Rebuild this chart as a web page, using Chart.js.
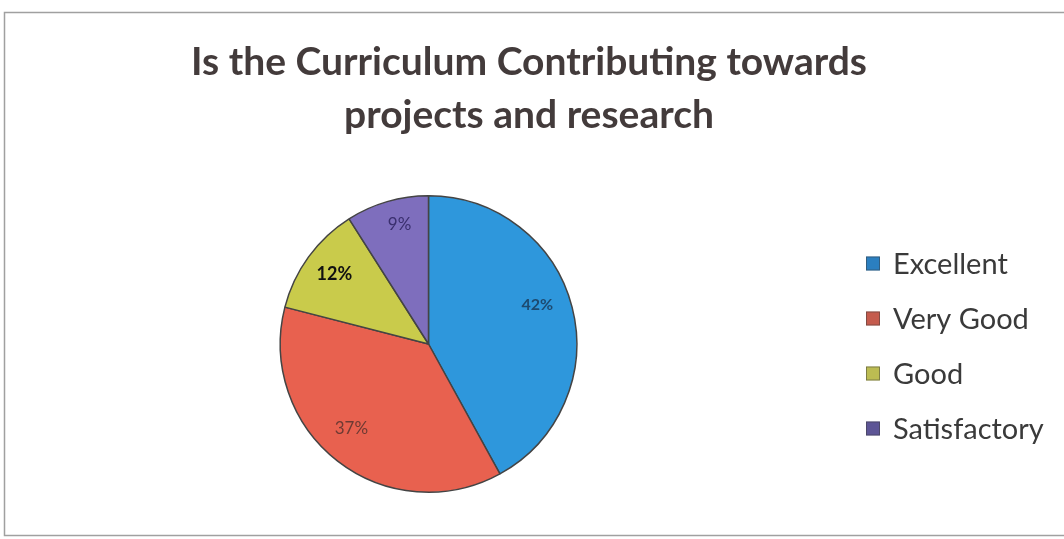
<!DOCTYPE html>
<html>
<head>
<meta charset="utf-8">
<script src="https://cdn.jsdelivr.net/npm/chart.js@4.4.1/dist/chart.umd.min.js"></script>
<style>
  html, body { margin: 0; padding: 0; background: #ffffff; }
  #wrap { width: 1064px; height: 539px; position: relative; }
</style>
</head>
<body>
<div id="wrap"><canvas id="c" width="1064" height="539"></canvas></div>
<script>
const categories = ['Excellent', 'Very Good', 'Good', 'Satisfactory'];
const percentValues = [42, 37, 12, 9];
const percentLabels = ['42%', '37%', '12%', '9%'];
const titleLines = ['Is the Curriculum Contributing towards', 'projects and research'];

const sliceColors = ['#2e97dc', '#e8614f', '#c9cb4b', '#7e6ebd'];
const legendColors = ['#2b7fc0', '#c55b4d', '#bcbc52', '#5d5596'];
const labelColors = ['#1d4a70', '#6e3a33', '#111111', '#3a2f6e'];
const labelFonts = ['bold 16px Lato', '17px Lato', 'bold 18px Lato', '17px Lato'];
const labelRadius = [0.78, 0.77, 0.79, 0.83];
const labelAngleShift = [-5.5, 4.7, 0.5, 2.6];

const framePlugin = {
  id: 'frame',
  beforeDraw(chart) {
    const ctx = chart.ctx;
    ctx.save();
    ctx.fillStyle = '#ffffff';
    ctx.fillRect(0, 0, chart.width, chart.height);
    ctx.strokeStyle = '#a0a0a0';
    ctx.lineWidth = 1.5;
    ctx.strokeRect(4.5, 12.5, chart.width + 10, 523);
    ctx.restore();
  }
};

const titlePlugin = {
  id: 'wideTitle',
  afterDraw(chart) {
    const ctx = chart.ctx;
    ctx.save();
    ctx.font = 'bold 39px Lato';
    ctx.fillStyle = '#433b3b';
    ctx.textAlign = 'center';
    ctx.textBaseline = 'alphabetic';
    titleLines.forEach((line, i) => {
      ctx.fillText(line, 529, 75 + i * 53);
    });
    ctx.restore();
  }
};

const legendPlugin = {
  id: 'sideLegend',
  afterDraw(chart) {
    const ctx = chart.ctx;
    const area = chart.chartArea;
    const cy = (area.top + area.bottom) / 2 + 2;
    const step = 55;
    const n = categories.length;
    ctx.save();
    ctx.font = '29px Lato';
    ctx.textBaseline = 'middle';
    ctx.textAlign = 'left';
    categories.forEach((c, i) => {
      const y = cy + (i - (n - 1) / 2) * step;
      ctx.fillStyle = legendColors[i];
      ctx.fillRect(866, y - 7, 14, 14);
      ctx.strokeStyle = 'rgba(60,60,60,0.6)';
      ctx.lineWidth = 0.8;
      ctx.strokeRect(866.5, y - 6.5, 13, 13);
      ctx.fillStyle = '#3a3a3a';
      ctx.fillText(c, 893, y + 1);
    });
    ctx.restore();
  }
};

const labelPlugin = {
  id: 'sliceLabels',
  afterDatasetsDraw(chart) {
    const ctx = chart.ctx;
    const meta = chart.getDatasetMeta(0);
    ctx.save();
    ctx.textAlign = 'center';
    ctx.textBaseline = 'middle';
    meta.data.forEach((arc, i) => {
      const p = arc.getProps(['x', 'y', 'startAngle', 'endAngle', 'outerRadius'], true);
      const mid = (p.startAngle + p.endAngle) / 2 + labelAngleShift[i] * Math.PI / 180;
      const r = p.outerRadius * labelRadius[i];
      const x = p.x + Math.cos(mid) * r;
      const y = p.y + Math.sin(mid) * r;
      ctx.font = labelFonts[i];
      ctx.fillStyle = labelColors[i];
      ctx.fillText(percentLabels[i], x, y);
    });
    ctx.restore();
  }
};

new Chart(document.getElementById('c'), {
  type: 'pie',
  data: {
    labels: categories,
    datasets: [{
      data: percentValues,
      backgroundColor: sliceColors,
      borderColor: '#444444',
      borderWidth: 1.5
    }]
  },
  options: {
    responsive: false,
    animation: false,
    layout: { padding: { left: 10, right: 217, top: 195, bottom: 46 } },
    plugins: {
      tooltip: { enabled: false },
      legend: { display: false },
      title: { display: false }
    }
  },
  plugins: [framePlugin, labelPlugin, legendPlugin, titlePlugin]
});
</script>
</body>
</html>
